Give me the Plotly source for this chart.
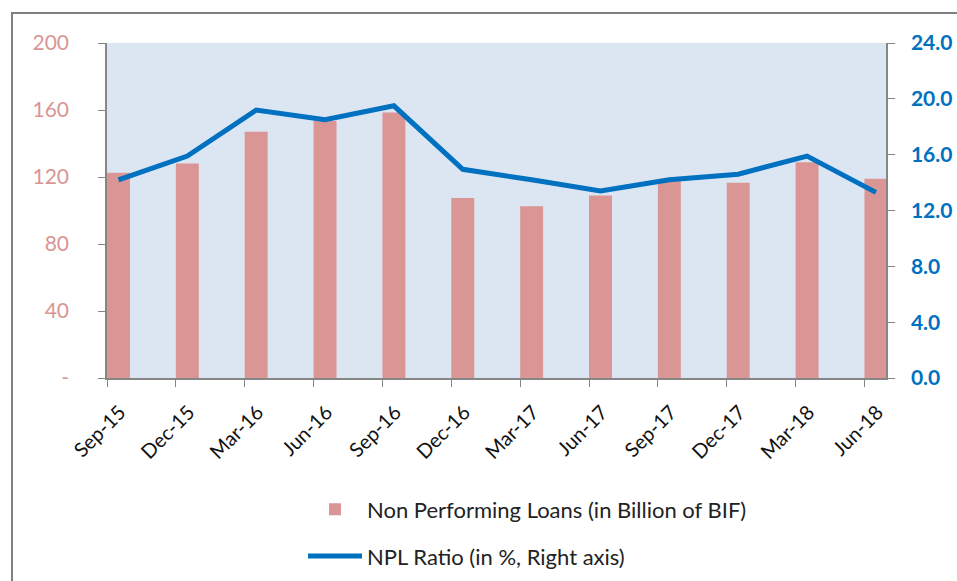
import plotly.graph_objects as go

categories = ["Sep-15", "Dec-15", "Mar-16", "Jun-16", "Sep-16", "Dec-16",
              "Mar-17", "Jun-17", "Sep-17", "Dec-17", "Mar-18", "Jun-18"]
npl_loans = [122.5, 128.0, 147.0, 153.5, 158.5, 107.5,
             102.5, 109.0, 118.0, 116.5, 128.8, 119.0]
npl_ratio = [14.2, 15.9, 19.2, 18.5, 19.5, 14.95,
             14.2, 13.4, 14.2, 14.6, 15.9, 13.3]
left_ticks = [0, 40, 80, 120, 160, 200]
left_ticktext = ["-", "40", "80", "120", "160", "200"]
right_ticks = [0, 4, 8, 12, 16, 20, 24]

BAR_W = 1 / 3
idx = list(range(len(categories)))
line_x = [i + BAR_W / 2 for i in idx]

PINK = "#D99694"
BLUE = "#0070C0"
GRAY = "#868686"
FONT = "Lato, 'Open Sans', sans-serif"

# plot area target: x 107..886, y 43..378
W, H = 957, 581
L, T = 107, 43
PW, PH = 779, 335

fig = go.Figure()
fig.add_trace(go.Bar(
    x=idx, y=npl_loans, name="Non Performing Loans (in Billion of BIF)",
    width=BAR_W, offset=0, marker=dict(color=PINK, line=dict(width=0)),
    legendgroup="a", yaxis="y"))
fig.add_trace(go.Scatter(
    x=line_x, y=npl_ratio, name="NPL Ratio (in %, Right axis)",
    mode="lines", line=dict(color=BLUE, width=5),
    legendgroup="b", yaxis="y2"))

fig.update_layout(
    width=W, height=H,
    margin=dict(l=L, r=W - L - PW, t=T, b=H - T - PH, autoexpand=False),
    paper_bgcolor="white",
    plot_bgcolor="#DCE6F2",
    font=dict(family=FONT, color="#222222"),
    showlegend=True,
    legend=dict(x=(303 - 107) / PW, xanchor="left", y=-0.33, yanchor="top",
                orientation="v", font=dict(size=22, color="#222222"),
                tracegroupgap=15, itemwidth=54, bgcolor="rgba(0,0,0,0)"),
    xaxis=dict(range=[0, 11.313], tickmode="array", tickvals=idx, ticktext=categories,
               tickangle=-45, ticks="outside", ticklen=7, tickcolor=GRAY,
               showline=True, linecolor=GRAY, linewidth=1.5, showgrid=False,
               zeroline=False, ticklabelshift=13, ticklabelstandoff=6,
               tickfont=dict(size=20, color="#111111")),
    yaxis=dict(range=[0, 200], tickmode="array", tickvals=left_ticks, ticktext=left_ticktext,
               ticks="outside", ticklen=7, tickcolor=GRAY, showline=True, linecolor=GRAY,
               linewidth=1.5, showgrid=False, zeroline=False, ticklabelstandoff=25,
               tickfont=dict(size=21, color=PINK)),
    yaxis2=dict(range=[0, 24], overlaying="y", side="right", tickmode="array",
                tickvals=right_ticks, ticktext=[f"{v:.1f}" for v in right_ticks],
                ticks="outside", ticklen=7, tickcolor=GRAY, showline=True, linecolor=GRAY,
                linewidth=1.5, showgrid=False, zeroline=False, ticklabelstandoff=12,
                tickfont=dict(size=21, color=BLUE, weight="bold")),
    shapes=[dict(type="rect", xref="paper", yref="paper",
                 x0=(12 - 107) / PW, x1=1.2, y0=-1.0, y1=(378 - 13) / PH,
                 line=dict(color="#808080", width=2), fillcolor="rgba(0,0,0,0)",
                 layer="below")],
)

fig.write_html("out.html", config={"displayModeBar": False},
               post_script="document.body.style.margin='0';document.body.style.overflow='hidden';")
